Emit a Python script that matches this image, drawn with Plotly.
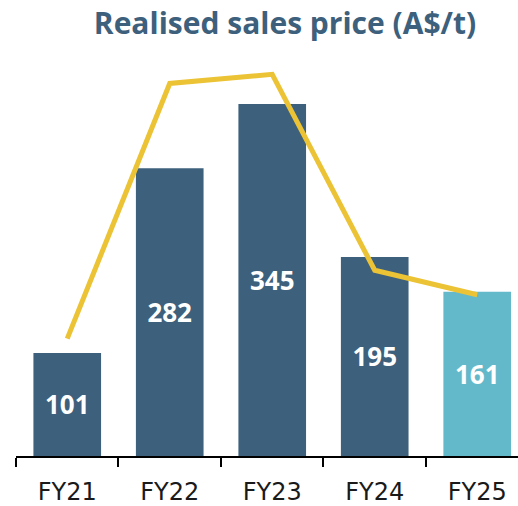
import plotly.graph_objects as go

categories = ["FY21", "FY22", "FY23", "FY24", "FY25"]
bar_values = [101, 282, 345, 195, 161]
line_values = [115, 365, 374, 182, 158]
bar_colors = ["#3D607C", "#3D607C", "#3D607C", "#3D607C", "#63B9CA"]

FONT = "Open Sans"

fig = go.Figure()
fig.add_trace(go.Bar(
    x=categories, y=bar_values,
    marker=dict(color=bar_colors, line=dict(width=0)),
    width=0.66,
    text=[str(v) for v in bar_values],
    textposition="inside", insidetextanchor="middle",
    textfont=dict(family=FONT, size=26, color="white", weight="bold"),
    hoverinfo="skip",
))
fig.add_trace(go.Scatter(
    x=categories, y=line_values, mode="lines",
    line=dict(color="#ECC334", width=5),
    hoverinfo="skip",
))

fig.update_layout(
    width=518, height=506,
    margin=dict(l=16, r=0, t=60, b=50),
    paper_bgcolor="white", plot_bgcolor="white",
    showlegend=False,
    title=dict(
        text="<b>Realised sales price (A$/t)</b>",
        font=dict(family=FONT, size=30, color="#3D607C"),
        x=285/518, xanchor="center", xref="container",
        y=1 - 23/506, yanchor="middle", yref="container",
    ),
    xaxis=dict(
        range=[-0.5, 4.398],
        showline=True, linecolor="black", linewidth=2,
        ticks="outside", tickson="boundaries", ticklen=9, tickwidth=2, tickcolor="black",
        tickfont=dict(family="DejaVu Sans", size=24, color="#1a1a1a"),
        ticklabelstandoff=13,
        showgrid=False,
    ),
    yaxis=dict(range=[0, 388], visible=False, showgrid=False),
)

fig.write_html("out.html", config={"displayModeBar": False},
               post_script="document.body.style.margin='0';")
